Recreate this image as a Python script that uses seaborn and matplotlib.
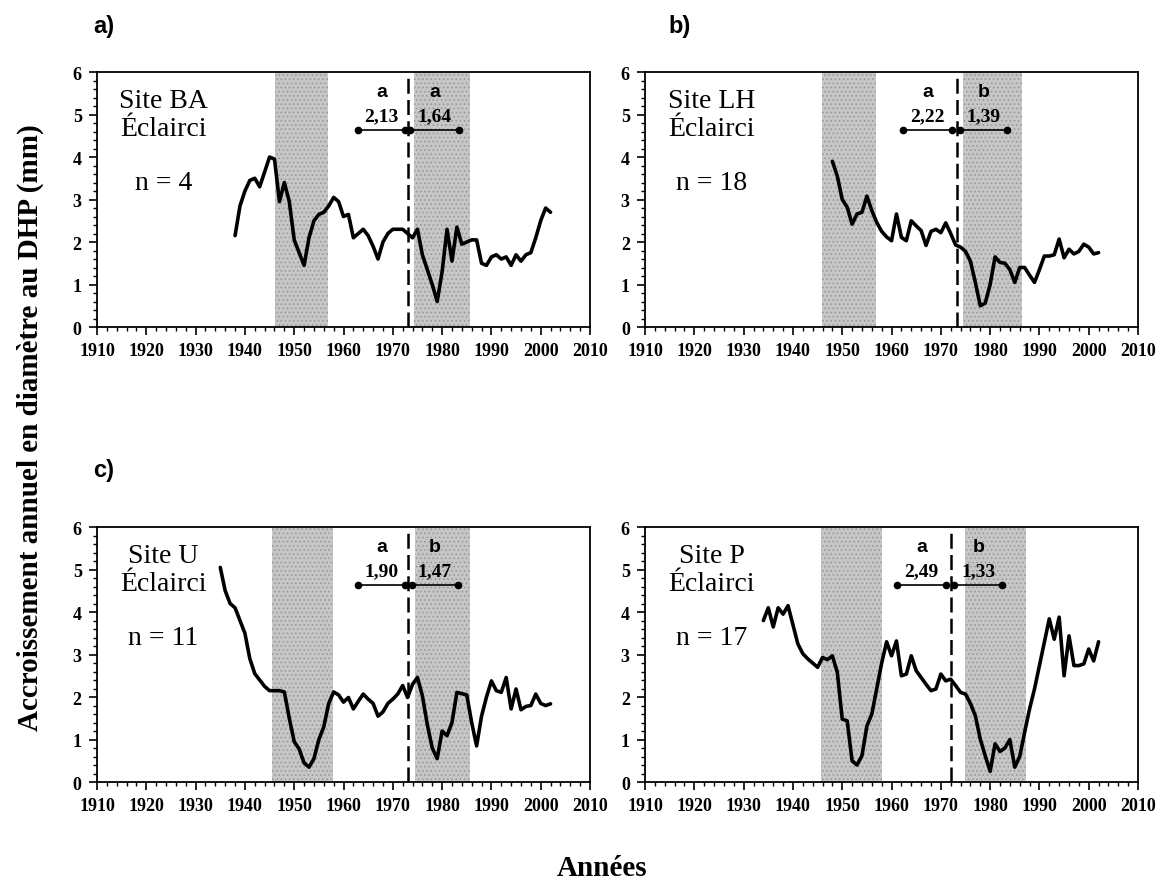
import matplotlib
matplotlib.use("Agg")
import matplotlib.pyplot as plt
from matplotlib.ticker import MultipleLocator
import pandas as pd
import seaborn as sns

# ---------------- data ----------------
site_names = ["Site BA", "Site LH", "Site U", "Site P"]
n_trees = [4, 18, 11, 17]
panel_tags = ["a)", "b)", "c)", ""]

start_a = 1938
growth_a = [2.15, 2.85, 3.20, 3.45, 3.50, 3.30, 3.65, 4.00, 3.95, 2.95, 3.40, 2.95,
            2.05, 1.75, 1.45, 2.10, 2.50, 2.65, 2.70, 2.85, 3.05, 2.95,
            2.60, 2.65, 2.10, 2.20, 2.30, 2.15, 1.90, 1.60, 2.00, 2.20,
            2.30, 2.30, 2.30, 2.20, 2.10, 2.30, 1.70, 1.35, 1.00, 0.60,
            1.30, 2.30, 1.55, 2.35, 1.95, 2.00, 2.05, 2.05, 1.50, 1.45,
            1.65, 1.70, 1.60, 1.65, 1.45, 1.70, 1.55, 1.70, 1.75, 2.10,
            2.50, 2.80, 2.70]

start_b = 1948
growth_b = [3.90, 3.55,
            3.00, 2.82, 2.42, 2.66, 2.70, 3.08, 2.74, 2.46, 2.25, 2.12,
            2.03, 2.66, 2.11, 2.03, 2.50, 2.38, 2.27, 1.92, 2.25, 2.30,
            2.22, 2.45, 2.20, 1.93, 1.88, 1.78, 1.55, 1.05, 0.50, 0.56,
            1.00, 1.65, 1.52, 1.50, 1.35, 1.05, 1.40, 1.40, 1.22, 1.05,
            1.35, 1.67, 1.67, 1.70, 2.07, 1.63, 1.83, 1.72, 1.78, 1.95,
            1.88, 1.72, 1.75]

start_c = 1935
growth_c = [5.05, 4.50, 4.20, 4.10, 3.80,
            3.50, 2.90, 2.55, 2.40, 2.25, 2.15, 2.15, 2.15, 2.12, 1.50,
            0.95, 0.78, 0.45, 0.35, 0.55, 1.00, 1.30, 1.85, 2.12, 2.05,
            1.88, 1.99, 1.72, 1.90, 2.07, 1.95, 1.85, 1.55, 1.65, 1.85,
            1.95, 2.07, 2.27, 1.99, 2.30, 2.46, 2.03, 1.35, 0.80, 0.55,
            1.20, 1.09, 1.40, 2.11, 2.08, 2.05, 1.40, 0.85, 1.55, 2.00,
            2.38, 2.15, 2.11, 2.46, 1.72, 2.19, 1.70, 1.78, 1.80, 2.07,
            1.85, 1.80, 1.84]

start_d = 1934
growth_d = [3.80, 4.10, 3.65, 4.10, 3.95, 4.15,
            3.70, 3.25, 3.02, 2.90, 2.80, 2.70, 2.93, 2.88, 2.97, 2.58,
            1.48, 1.44, 0.50, 0.40, 0.62, 1.32, 1.60, 2.20, 2.80, 3.30,
            2.97, 3.32, 2.50, 2.54, 2.97, 2.62, 2.46, 2.30, 2.15, 2.19,
            2.54, 2.38, 2.42, 2.27, 2.11, 2.07, 1.85, 1.56, 1.01, 0.62,
            0.25, 0.90, 0.72, 0.80, 1.00, 0.35, 0.60, 1.17, 1.72, 2.19,
            2.74, 3.29, 3.84, 3.36, 3.88, 2.50, 3.44, 2.74, 2.74, 2.78,
            3.13, 2.85, 3.30]

starts = [start_a, start_b, start_c, start_d]
series = [growth_a, growth_b, growth_c, growth_d]

thin_year = [1973.0, 1973.2, 1973.0, 1972.0]
before_span = [(1963.0, 1972.5), (1962.4, 1972.2), (1963.0, 1972.4), (1961.2, 1971.0)]
after_span = [(1973.5, 1983.5), (1973.9, 1983.5), (1973.8, 1983.2), (1972.7, 1982.5)]
letter_before = ["a", "a", "a", "a"]
letter_after = ["a", "b", "b", "b"]
mean_before = ["2,13", "2,22", "1,90", "2,49"]
mean_after = ["1,64", "1,39", "1,47", "1,33"]
outbreak1 = [(1946.1, 1956.9), (1945.8, 1956.8), (1945.4, 1957.9), (1945.6, 1958.1)]
outbreak2 = [(1974.4, 1985.6), (1974.5, 1986.4), (1974.5, 1985.6), (1975.0, 1987.2)]

x_ticks = [1910, 1920, 1930, 1940, 1950, 1960, 1970, 1980, 1990, 2000, 2010]
x_tick_labels = ["1910", "1920", "1930", "1940", "1950", "1960", "1970",
                 "1980", "1990", "2000", "2010"]
y_ticks = [0, 1, 2, 3, 4, 5, 6]
y_tick_labels = ["0", "1", "2", "3", "4", "5", "6"]

y_title = "Accroissement annuel en diamètre au DHP (mm)"
x_title = "Années"

# ---------------- style ----------------
sns.set_style("ticks")
plt.rcParams["font.family"] = ["Liberation Serif", "DejaVu Serif"]
plt.rcParams["hatch.linewidth"] = 0.6
plt.rcParams["text.color"] = "black"
plt.rcParams["axes.labelcolor"] = "black"
plt.rcParams["xtick.color"] = "black"
plt.rcParams["ytick.color"] = "black"
SANS = ["Liberation Sans", "DejaVu Sans"]

fig = plt.figure(figsize=(11.69, 8.95), dpi=100)

W, H = 0.4217, 0.2849
positions = [(0.083, 0.6335, W, H), (0.5518, 0.6335, W, H),
             (0.083, 0.1251, W, H), (0.5518, 0.1251, W, H)]
tag_pos = [(0.080, 0.970), (0.572, 0.970), (0.080, 0.474), (0.572, 0.474)]

bar_y = 4.63

for i in range(4):
    ax = fig.add_axes(positions[i])
    vals = series[i]
    df = pd.DataFrame({"year": list(range(starts[i], starts[i] + len(vals))),
                       "growth": vals})

    for band in (outbreak1[i], outbreak2[i]):
        ax.axvspan(*band, facecolor="#c6c6c6", edgecolor="#959595",
                   hatch="....", lw=0, zorder=0)

    sns.lineplot(data=df, x="year", y="growth", ax=ax, color="black",
                 lw=2.6, zorder=3)

    ax.axvline(thin_year[i], color="black", lw=1.8, ls=(0, (6, 2.5)), zorder=2)

    for span, let, mean in ((before_span[i], letter_before[i], mean_before[i]),
                            (after_span[i], letter_after[i], mean_after[i])):
        ax.plot(list(span), [bar_y, bar_y], color="black", lw=1.2,
                marker="o", ms=4.5, zorder=4)
        cx = (span[0] + span[1]) / 2
        ax.text(cx, 5.55, let, ha="center", va="center", fontsize=14,
                fontweight="bold", family=SANS, color="black", zorder=5)
        ax.text(cx, 4.97, mean, ha="center", va="center", fontsize=14,
                fontweight="bold", color="black", zorder=5)

    ax.text(1923.5, 5.62, site_names[i] + "\nÉclairci", ha="center", va="top",
            fontsize=20, linespacing=1.15, color="black")
    ax.text(1923.5, 3.40, "n = %d" % n_trees[i], ha="center", va="center",
            fontsize=20, color="black")

    ax.set_xlim(1910, 2010)
    ax.set_ylim(0, 6)
    ax.set_xticks(x_ticks, labels=x_tick_labels, fontweight="bold")
    ax.set_yticks(y_ticks, labels=y_tick_labels, fontweight="bold")
    ax.xaxis.set_minor_locator(MultipleLocator(2))
    ax.yaxis.set_minor_locator(MultipleLocator(0.2))
    ax.tick_params(which="major", direction="out", length=6, width=1.2,
                   labelsize=13, colors="black", pad=5)
    ax.tick_params(which="minor", direction="out", length=3, width=1.0,
                   colors="black")
    ax.set_xlabel("")
    ax.set_ylabel("")
    for sp in ax.spines.values():
        sp.set_visible(True)
        sp.set_linewidth(1.3)
        sp.set_color("black")

    if panel_tags[i]:
        fig.text(tag_pos[i][0], tag_pos[i][1], panel_tags[i], family=SANS,
                 fontweight="bold", fontsize=17, ha="left", va="center",
                 color="black")

fig.text(0.026, 0.522, y_title, rotation=90, ha="center", va="center",
         fontsize=21, fontweight="bold", color="black")
fig.text(0.515, 0.030, x_title, ha="center", va="center", fontsize=21,
         fontweight="bold", color="black")

fig.savefig("out.png", dpi=100)
